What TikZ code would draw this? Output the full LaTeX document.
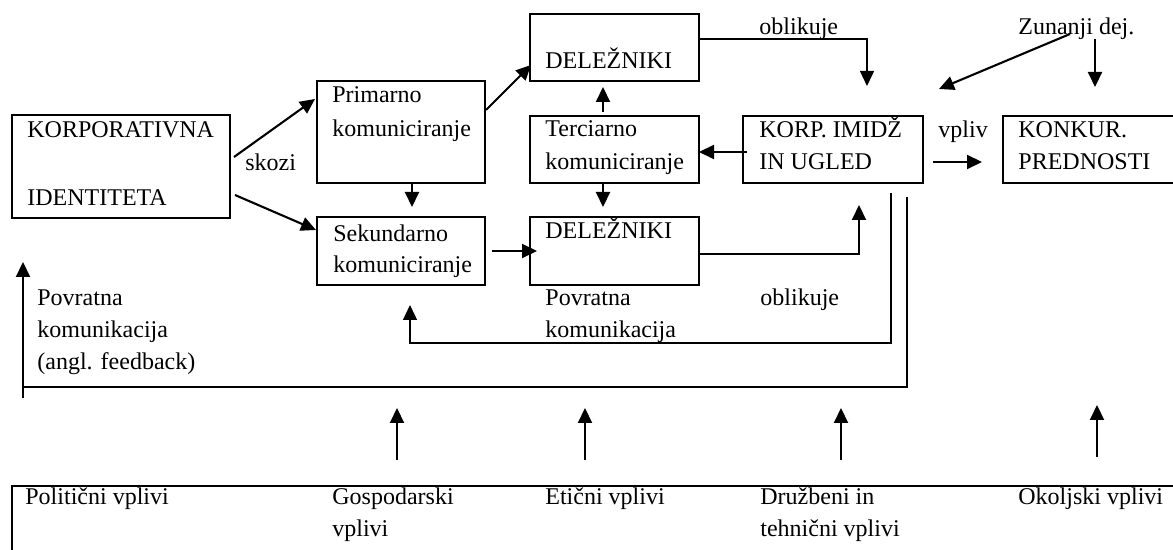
\documentclass[tikz,border=0pt]{standalone}
\usepackage{fontspec}
\setmainfont{Liberation Serif}
\usetikzlibrary{arrows.meta,calc}
\begin{document}
\begin{tikzpicture}[x=0.5pt,y=-0.5pt,
  box/.style={draw,line width=1pt,anchor=north west,inner sep=0pt,outer sep=0pt},
  lbl/.style={anchor=base west,inner sep=0pt,font=\fontsize{12}{14}\selectfont},
  arr/.style={line width=1.05pt,-{Triangle[length=7.5pt,width=7pt]}},
  thinarr/.style={line width=0.65pt,-{Triangle[length=7.5pt,width=7pt]}},
  thinline/.style={line width=0.6pt},
]
\useasboundingbox (0,0) rectangle (1173,550);

% boxes
\node[box,minimum width=109pt,minimum height=51.5pt] (kid) at (12,115) {};
\node[box,minimum width=84pt,minimum height=51pt] (prim) at (317,81) {};
\node[box,minimum width=84pt,minimum height=34pt] (sek) at (317,217) {};
\node[box,minimum width=84.5pt,minimum height=33.5pt] (del1) at (530,14) {};
\node[box,minimum width=84.5pt,minimum height=33.5pt] (terc) at (530,116) {};
\node[box,minimum width=84.5pt,minimum height=34pt] (del2) at (530,217) {};
\node[box,minimum width=90pt,minimum height=33.5pt] (imidz) at (743,116) {};
\node[box,minimum width=100pt,minimum height=33.5pt] (konk) at (1003,116) {};
\node[box,minimum width=600pt,minimum height=50pt] (vp) at (12,486) {};

% texts
\node[lbl] (kid1) at (27,138) {KORPORATIVNA};
\node[lbl] (kid2) at (27,206) {IDENTITETA};
\node[lbl] (skozi) at (245,171) {skozi};
\node[lbl] (prim1) at (332,103) {Primarno};
\node[lbl] (prim2) at (332,137) {komuniciranje};
\node[lbl] (sek1) at (333,242) {Sekundarno};
\node[lbl] (sek2) at (333,273) {komuniciranje};
\node[lbl] (del1t) at (545,69) {DELEŽNIKI};
\node[lbl] (terc1) at (545,137) {Terciarno};
\node[lbl] (terc2) at (545,170) {komuniciranje};
\node[lbl] (del2t) at (545,239) {DELEŽNIKI};
\node[lbl] (obl1) at (759,35) {oblikuje};
\node[lbl] (zun) at (1018,35) {Zunanji dej.};
\node[lbl] (imidz1) at (759,138) {KORP. IMIDŽ};
\node[lbl] (imidz2) at (759,170) {IN UGLED};
\node[lbl] (vpliv) at (938,138) {vpliv};
\node[lbl] (konk1) at (1018,138) {KONKUR.};
\node[lbl] (konk2) at (1018,170) {PREDNOSTI};
\node[lbl] (fb1) at (37,306) {Povratna};
\node[lbl] (fb2) at (37,338) {komunikacija};
\node[lbl] (fb3) at (37,370) {(angl. feedback)};
\node[lbl] (pk1) at (545,306) {Povratna};
\node[lbl] (pk2) at (545,338) {komunikacija};
\node[lbl] (obl2) at (760,306) {oblikuje};
\node[lbl] (vp1) at (25,505) {Politični vplivi};
\node[lbl] (vp2a) at (332,505) {Gospodarski};
\node[lbl] (vp2b) at (332,537) {vplivi};
\node[lbl] (vp3) at (545,505) {Etični vplivi};
\node[lbl] (vp4a) at (760,505) {Družbeni in};
\node[lbl] (vp4b) at (760,537) {tehnični vplivi};
\node[lbl] (vp5) at (1018,505) {Okoljski vplivi};

% main flow
\draw[arr] ($(kid.east)+(4,-9.5)$) -- ($(prim.west)+(-2,-33)$);
\draw[arr] ($(kid.east)+(5,28.5)$) -- ($(sek.west)+(-1,-21)$);
\draw[arr] ($(prim.east)+(1,-22)$) -- ($(del1.west)+(1,17.5)$);
\draw[arr] ($(prim.south)+(11,0)$) -- ($(sek.north)+(11,-10)$);
\draw[arr] ($(terc.north)+(-11.5,-4)$) -- ($(del1.south)+(-11.5,6)$);
\draw[arr] ($(terc.south)+(-11.5,0)$) -- ($(del2.north)+(-11.5,-10)$);
\draw[arr] ($(imidz.west)+(4,2.5)$) -- ($(terc.east)+(0,2.5)$);
\draw[arr] ($(sek.east)+(7,0)$) -- ($(del2.west)+(7,0)$);
\draw[arr] ($(imidz.east)+(10,12.5)$) -- ($(konk.west)+(-21,12.5)$);

% shaping of the image
\draw[thinarr] ($(del1.east)+(0,-8.5)$) -| ($(imidz.north)+(34,-30)$);
\draw[arr] ($(del2.east)+(0,3)$) -| ($(imidz.south)+(26,22)$);
\draw[arr] ($(zun.base west)+(52,-1)$) -- ($(imidz.north east)+(16,-27)$);
\draw[arr] ($(konk.north west)+(92,-77)$) -- ($(konk.north west)+(92,-29)$);

% feedback loops
\draw[thinarr] ($(imidz.south)+(58,10)$) |- ($(sek.south)+(9,58)$) -- ($(sek.south)+(9,20)$);
\draw[thinline] ($(imidz.south)+(74,14)$) |- ($(kid.south west)+(11,169)$);
\draw[arr] ($(kid.south west)+(11,180)$) -- ($(kid.south west)+(11,44)$);

% external influences
\draw[arr] ($(vp.north west)+(385,-26)$) -- ($(vp.north west)+(385,-78)$);
\draw[arr] ($(vp.north west)+(573,-26)$) -- ($(vp.north west)+(573,-78)$);
\draw[arr] ($(vp.north west)+(829,-26)$) -- ($(vp.north west)+(829,-78)$);
\draw[arr] ($(vp.north west)+(1085,-29)$) -- ($(vp.north west)+(1085,-81)$);
\end{tikzpicture}
\end{document}
